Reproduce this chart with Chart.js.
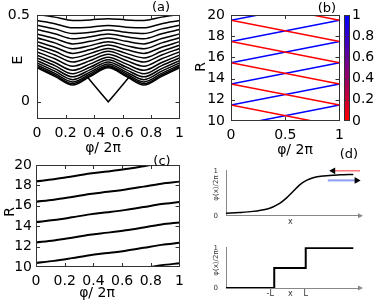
<!DOCTYPE html>
<html>
<head>
<meta charset="utf-8">
<style>
html, body { margin: 0; padding: 0; background: #fff; }
#wrap { position: relative; width: 374px; height: 302px; overflow: hidden; font-family: "DejaVu Sans", sans-serif; }
canvas { position: absolute; }
.t { position: absolute; white-space: nowrap; transform: translate(-50%, -50%); font-size: 14px; line-height: 1; color: #000; }
.r { transform: translate(-50%, -50%) rotate(-90deg); }
.s { font-size: 7px; color: #333; }
</style>
<script src="https://cdn.jsdelivr.net/npm/chart.js"></script>
</head>
<body>
<div id="wrap">
  <canvas id="ca" width="190" height="150" style="left:0;top:0"></canvas>
  <canvas id="cb" width="160" height="150" style="left:190px;top:0"></canvas>
  <canvas id="cbar" width="44" height="150" style="left:340px;top:0"></canvas>
  <canvas id="cc" width="190" height="152" style="left:0;top:150px"></canvas>
  <canvas id="cd1" width="174" height="70" style="left:200px;top:158px"></canvas>
  <canvas id="cd2" width="174" height="67" style="left:200px;top:235px"></canvas>

  <div class="t r" style="left:17px;top:60px">E</div>
  <div class="t" style="left:103px;top:147px">φ/ 2π</div>
  <div class="t" style="left:161px;top:6px;font-size:13px">(a)</div>
  <div class="t r" style="left:200px;top:67px">R</div>
  <div class="t" style="left:295px;top:149px">φ/ 2π</div>
  <div class="t" style="left:327px;top:7px;font-size:13px">(b)</div>
  <div class="t r" style="left:9px;top:212px">R</div>
  <div class="t" style="left:97px;top:292px">φ/ 2π</div>
  <div class="t" style="left:162px;top:160px;font-size:13px">(c)</div>
  <div class="t" style="left:349px;top:153px;font-size:13px">(d)</div>
  <div class="t r s" style="left:216px;top:188px">φ(x)/2π</div>
  <div class="t r s" style="left:216px;top:263px">φ(x)/2π</div>
</div>
<script>
// (a) energy bands vs phi
const aPhi = [0, 0.125, 0.25, 0.375, 0.5, 0.625, 0.75, 0.875, 1];
const aBands = [
  [0.197, 0.147, 0.097, 0.147, 0.197, 0.147, 0.097, 0.147, 0.197],
  [0.204, 0.155, 0.105, 0.153, 0.202, 0.153, 0.105, 0.155, 0.204],
  [0.213, 0.164, 0.115, 0.162, 0.209, 0.162, 0.115, 0.164, 0.213],
  [0.225, 0.177, 0.128, 0.173, 0.219, 0.173, 0.128, 0.177, 0.225],
  [0.238, 0.192, 0.144, 0.186, 0.230, 0.186, 0.144, 0.192, 0.238],
  [0.253, 0.209, 0.162, 0.201, 0.243, 0.201, 0.162, 0.209, 0.253],
  [0.270, 0.227, 0.182, 0.219, 0.258, 0.219, 0.182, 0.227, 0.270],
  [0.289, 0.249, 0.206, 0.239, 0.275, 0.239, 0.206, 0.249, 0.289],
  [0.308, 0.271, 0.230, 0.259, 0.292, 0.259, 0.230, 0.271, 0.308],
  [0.327, 0.292, 0.254, 0.280, 0.309, 0.280, 0.254, 0.292, 0.327],
  [0.348, 0.316, 0.280, 0.302, 0.328, 0.302, 0.280, 0.316, 0.348],
  [0.370, 0.341, 0.307, 0.325, 0.348, 0.325, 0.307, 0.341, 0.370],
  [0.393, 0.366, 0.335, 0.350, 0.369, 0.350, 0.335, 0.366, 0.393],
  [0.418, 0.394, 0.365, 0.376, 0.392, 0.376, 0.365, 0.394, 0.418],
  [0.443, 0.422, 0.395, 0.402, 0.415, 0.402, 0.395, 0.422, 0.443],
  [0.470, 0.452, 0.428, 0.432, 0.442, 0.432, 0.428, 0.452, 0.470],
  [0.505, 0.490, 0.471, 0.474, 0.481, 0.474, 0.471, 0.490, 0.505]
];
const aVPhi = [0.355, 0.4, 0.45, 0.5, 0.55, 0.6, 0.645];
const aVE = [0.142, 0.097, 0.048, 0, 0.048, 0.097, 0.142];
const aYTicks = [0, 0.5];

// (b) crossing lines, blue rising / red falling
const bPhi = [0, 1];
const bBlue = [[9.5, 11.5], [11.5, 13.5], [13.5, 15.5], [15.5, 17.5], [17.5, 19.5], [19.5, 21.5]];
const bRed = [[11.5, 9.5], [13.5, 11.5], [15.5, 13.5], [17.5, 15.5], [19.5, 17.5], [21.5, 19.5]];
const barTicks = [0, 0.2, 0.4, 0.6, 0.8, 1];

// (c) black lines
const cPhi = [0, 0.125, 0.25, 0.375, 0.5, 0.625, 0.75, 0.875, 1];
const cLines = [
  [8.4, 8.6, 8.87, 9.16, 9.37, 9.6, 9.88, 10.17, 10.37],
  [10.4, 10.6, 10.87, 11.16, 11.37, 11.6, 11.88, 12.17, 12.37],
  [12.4, 12.6, 12.87, 13.16, 13.37, 13.6, 13.88, 14.17, 14.37],
  [14.4, 14.6, 14.87, 15.16, 15.37, 15.6, 15.88, 16.17, 16.37],
  [16.4, 16.6, 16.87, 17.16, 17.37, 17.6, 17.88, 18.17, 18.37],
  [18.4, 18.6, 18.87, 19.16, 19.37, 19.6, 19.88, 20.17, 20.37]
];

// (d) sketches
const sigX = [0, 0.1, 0.2, 0.3, 0.35, 0.4, 0.45, 0.5, 0.55, 0.6, 0.65, 0.73, 0.85, 0.95];
const sigY = [0.06, 0.075, 0.1, 0.15, 0.2, 0.28, 0.4, 0.55, 0.7, 0.8, 0.86, 0.9, 0.925, 0.935];
const stepX = [0, 0.36, 0.36, 0.595, 0.595, 0.95];
const stepY = [0, 0, 0.5, 0.5, 1, 1];
const redArrowX = [0.8, 1.0], redArrowY = [1.015, 1.015];
const blueArrowX = [0.76, 0.975], blueArrowY = [0.8, 0.8];
const dTopTicks = [0.48], dTopLabels = ['x'];
const dBotTicks = [0.33, 0.48, 0.595], dBotLabels = ['-L', 'x', 'L'];

Chart.defaults.font.family = '"DejaVu Sans", sans-serif';
Chart.defaults.font.size = 14;
Chart.defaults.color = '#000';
Chart.defaults.animation = false;
Chart.defaults.plugins.legend.display = false;
Chart.defaults.plugins.tooltip.enabled = false;
Chart.defaults.elements.point.radius = 0;

// gnuplot-like frame with inward ticks
const frame = {
  id: 'frame',
  afterDatasetsDraw(chart, args, o) {
    const a = chart.chartArea, ctx = chart.ctx;
    const sx = chart.scales.x, sy = chart.scales.y;
    ctx.save();
    ctx.strokeStyle = o.color;
    ctx.lineWidth = 1;
    ctx.beginPath();
    (o.xt || []).forEach(v => {
      const p = Math.round(sx.getPixelForValue(v)) + 0.5;
      ctx.moveTo(p, a.bottom); ctx.lineTo(p, a.bottom - o.len);
      ctx.moveTo(p, a.top); ctx.lineTo(p, a.top + o.len);
    });
    (o.yt || []).forEach(v => {
      const p = Math.round(sy.getPixelForValue(v)) + 0.5;
      ctx.moveTo(a.left, p); ctx.lineTo(a.left + o.len, p);
      ctx.moveTo(a.right, p); ctx.lineTo(a.right - o.len, p);
    });
    ctx.stroke();
    if (o.box) {
      ctx.strokeRect(Math.round(a.left) + 0.5, Math.round(a.top) + 0.5,
        Math.round(a.right - a.left) - 1, Math.round(a.bottom - a.top) - 1);
    }
    if (o.arrow) {
      ctx.fillStyle = '#888';
      ctx.beginPath();
      ctx.moveTo(a.right + 3, a.bottom);
      ctx.lineTo(a.right - 2, a.bottom - 2.5);
      ctx.lineTo(a.right - 2, a.bottom + 2.5);
      ctx.closePath();
      ctx.fill();
    }
    ctx.restore();
  },
  defaults: { color: '#333', len: 4, box: true, arrow: false }
};
Chart.register(frame);

const fixW = w => s => { s.width = w; };
const fixH = h => s => { s.height = h; };
const noGrid = { display: false, drawTicks: false };
const xy = (xs, ys) => xs.map((x, i) => ({ x: x, y: ys[i] }));
const num = v => String(+(+v).toFixed(2));

// (a)
new Chart(document.getElementById('ca'), {
  type: 'line',
  data: {
    datasets: aBands.map(b => ({
      data: xy(aPhi, b), borderColor: '#000', borderWidth: 1.5, cubicInterpolationMode: 'monotone'
    })).concat([{ data: xy(aVPhi, aVE), borderColor: '#000', borderWidth: 1.5, tension: 0 }])
  },
  options: {
    responsive: false,
    layout: { padding: { top: 14, right: 7, left: 0, bottom: 0 } },
    scales: {
      x: { type: 'linear', min: 0, max: 1, grid: noGrid, border: { display: false },
        ticks: { stepSize: 0.2, padding: 6, maxRotation: 0, autoSkip: false, callback: num }, afterFit: fixH(31) },
      y: { type: 'linear', min: -0.1, max: 0.5, grid: noGrid, border: { display: false },
        afterBuildTicks: s => { s.ticks = aYTicks.map(v => ({ value: v })); },
        ticks: { padding: 7, callback: num }, afterFit: fixW(37) }
    },
    plugins: { frame: { xt: [0.2, 0.4, 0.6, 0.8], yt: [0] } }
  }
});

// (b)
new Chart(document.getElementById('cb'), {
  type: 'line',
  data: {
    datasets: bRed.map(r => ({ data: xy(bPhi, r), borderColor: '#ff0000', borderWidth: 1.5 }))
      .concat(bBlue.map(r => ({ data: xy(bPhi, r), borderColor: '#0000ff', borderWidth: 1.5 })))
  },
  options: {
    responsive: false,
    layout: { padding: { top: 15, right: 8, left: 0, bottom: 0 } },
    scales: {
      x: { type: 'linear', min: 0, max: 1, grid: noGrid, border: { display: false },
        ticks: { stepSize: 0.5, padding: 6, maxRotation: 0, autoSkip: false, callback: num }, afterFit: fixH(29) },
      y: { type: 'linear', min: 10, max: 20, grid: noGrid, border: { display: false },
        ticks: { stepSize: 2, padding: 6, autoSkip: false, callback: num }, afterFit: fixW(41) }
    },
    plugins: { frame: { xt: [0.5], yt: [12, 14, 16, 18] } }
  }
});

// colour bar
new Chart(document.getElementById('cbar'), {
  type: 'bar',
  data: {
    labels: [''],
    datasets: [{
      data: [[0, 1]], barPercentage: 1, categoryPercentage: 1, borderWidth: 0,
      backgroundColor: c => {
        const a = c.chart.chartArea;
        if (!a) return '#800080';
        const g = c.chart.ctx.createLinearGradient(0, a.bottom, 0, a.top);
        g.addColorStop(0, '#ff0000');
        g.addColorStop(1, '#0000ff');
        return g;
      }
    }]
  },
  options: {
    responsive: false,
    layout: { padding: { top: 15, right: 0, left: 4, bottom: 29 } },
    scales: {
      x: { display: false },
      y: { position: 'right', min: 0, max: 1, grid: noGrid, border: { display: false },
        afterBuildTicks: s => { s.ticks = barTicks.map(v => ({ value: v })); },
        ticks: { padding: 2, autoSkip: false, callback: num }, afterFit: fixW(34) }
    },
    plugins: { frame: { yt: [0.2, 0.4, 0.6, 0.8], len: 2 } }
  }
});

// (c)
new Chart(document.getElementById('cc'), {
  type: 'line',
  data: {
    datasets: cLines.map(l => ({ data: xy(cPhi, l), borderColor: '#000', borderWidth: 2, cubicInterpolationMode: 'monotone' }))
  },
  options: {
    responsive: false,
    layout: { padding: { top: 15, right: 5, left: 0, bottom: 0 } },
    scales: {
      x: { type: 'linear', min: 0, max: 1, grid: noGrid, border: { display: false },
        ticks: { stepSize: 0.2, padding: 6, maxRotation: 0, autoSkip: false, callback: num }, afterFit: fixH(35) },
      y: { type: 'linear', min: 10, max: 20, grid: noGrid, border: { display: false },
        ticks: { stepSize: 2, padding: 4, autoSkip: false, callback: num }, afterFit: fixW(36) }
    },
    plugins: { frame: { xt: [0.2, 0.4, 0.6, 0.8], yt: [12, 14, 16, 18] } }
  }
});

// (d) sketches
function sketch(id, datasets, xt, xl, ymax, xh) {
  new Chart(document.getElementById(id), {
    type: 'line',
    data: { datasets: datasets },
    options: {
      responsive: false,
      layout: { padding: { top: 5, right: 14, left: 0, bottom: 0 } },
      scales: {
        x: { type: 'linear', min: 0, max: 1, grid: noGrid, border: { display: true, color: '#888', width: 1 },
          afterBuildTicks: s => { s.ticks = xt.map(v => ({ value: v })); },
          ticks: { padding: 1, maxRotation: 0, autoSkip: false, font: { size: 8 }, color: '#333',
            callback: (v, i) => xl[i] },
          afterFit: fixH(xh) },
        y: { type: 'linear', min: 0, max: ymax, grid: noGrid, border: { display: true, color: '#888', width: 1 },
          afterBuildTicks: s => { s.ticks = [0, 1].map(v => ({ value: v })); },
          ticks: { padding: 8, font: { size: 7 }, color: '#333', callback: num },
          afterFit: fixW(26) }
      },
      plugins: { frame: { box: false, arrow: true } }
    }
  });
}

sketch('cd1', [
  { data: xy(sigX, sigY), borderColor: '#000', borderWidth: 1.5, cubicInterpolationMode: 'monotone' },
  { data: xy(redArrowX, redArrowY), borderColor: '#ff3030', borderWidth: 1, clip: false,
    pointStyle: 'triangle', pointRadius: [4, 0], pointRotation: [-90, 0],
    pointBackgroundColor: '#000', pointBorderColor: '#000', pointBorderWidth: 0 },
  { data: xy(blueArrowX, blueArrowY), borderColor: '#8c9cf0', borderWidth: 2, clip: false,
    pointStyle: 'triangle', pointRadius: [0, 4], pointRotation: [0, 90],
    pointBackgroundColor: '#000', pointBorderColor: '#000', pointBorderWidth: 0 }
], dTopTicks, dTopLabels, 1.03, 12);

sketch('cd2', [
  { data: xy(stepX, stepY), borderColor: '#000', borderWidth: 2, tension: 0 }
], dBotTicks, dBotLabels, 1.02, 14);
</script>
</body>
</html>
